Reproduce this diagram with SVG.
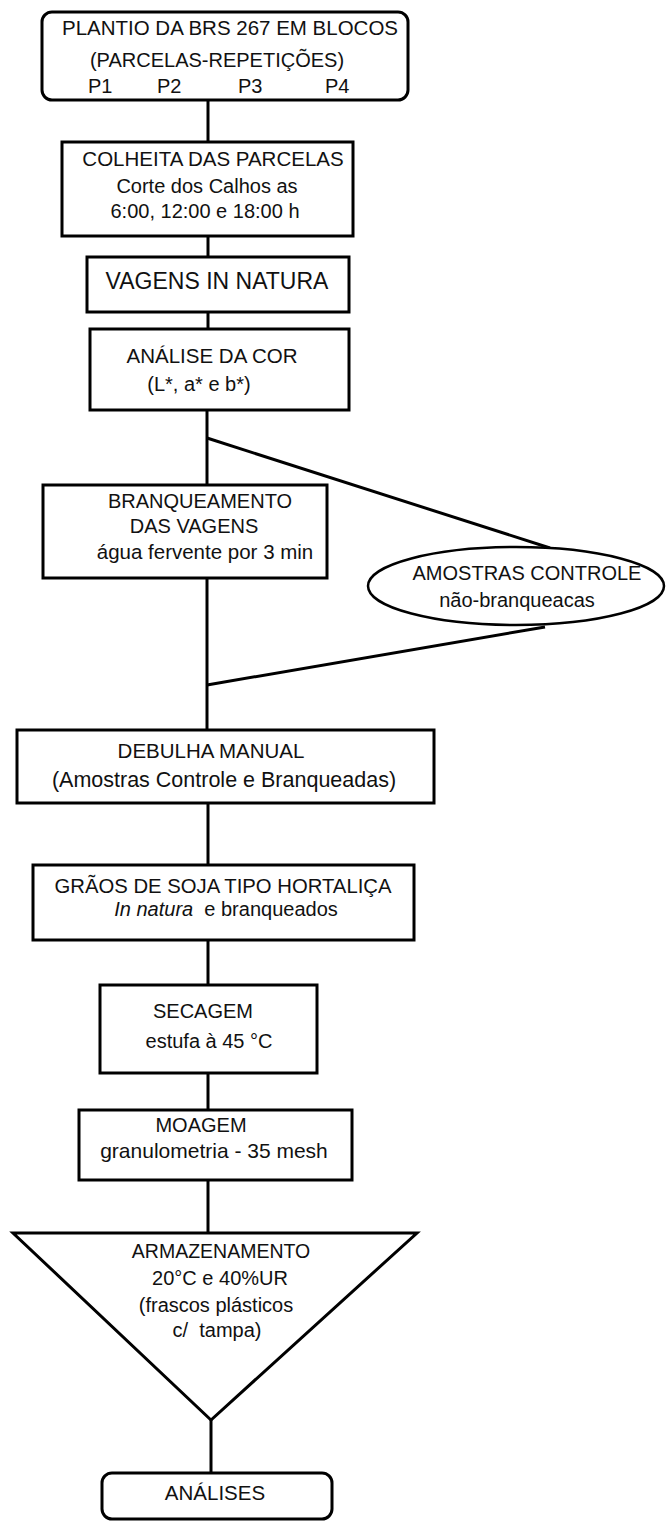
<svg xmlns="http://www.w3.org/2000/svg" width="666" height="1521" viewBox="0 0 666 1521">
<style>
.b{fill:#fff;stroke:#000;stroke-width:3}
.c{fill:none;stroke:#000;stroke-width:3}
text{font-family:"Liberation Sans",Arial,sans-serif;font-size:20px;fill:#111;text-anchor:middle}
.s{text-anchor:start}
.p{white-space:pre}
</style>
<rect width="666" height="1521" fill="#fff"/>
<g id="connectors">
<line class="c" x1="208" y1="100" x2="208" y2="142"/>
<line class="c" x1="208" y1="236" x2="208" y2="257"/>
<line class="c" x1="208" y1="312" x2="208" y2="329"/>
<line class="c" x1="207" y1="410" x2="207" y2="485"/>
<line class="c" x1="207" y1="578" x2="207" y2="730"/>
<polyline class="c" points="207,438 550,548"/>
<polyline class="c" points="545,627 207,685"/>
<line class="c" x1="208" y1="803" x2="208" y2="865"/>
<line class="c" x1="208" y1="940" x2="208" y2="985"/>
<line class="c" x1="208" y1="1073" x2="208" y2="1110"/>
<line class="c" x1="208" y1="1180" x2="208" y2="1233"/>
<line class="c" x1="211" y1="1420" x2="211" y2="1473"/>
</g>
<g id="plantio">
<rect class="b" x="42" y="12" width="366" height="88" rx="10"/>
<text x="230" y="35" style="font-size:20.5px">PLANTIO DA BRS 267 EM BLOCOS</text>
<text x="217" y="67">(PARCELAS-REPETIÇÕES)</text>
<text class="s" x="88" y="93">P1</text>
<text class="s" x="157" y="93">P2</text>
<text class="s" x="238" y="93">P3</text>
<text class="s" x="325" y="93">P4</text>
</g>
<g id="colheita">
<rect class="b" x="62" y="142" width="291" height="94"/>
<text x="213" y="166" style="font-size:20.5px">COLHEITA DAS PARCELAS</text>
<text x="207" y="193">Corte dos Calhos as</text>
<text x="205" y="218">6:00, 12:00 e 18:00 h</text>
</g>
<g id="vagens">
<rect class="b" x="87" y="257" width="262" height="55"/>
<text x="217" y="289" style="font-size:23px">VAGENS IN NATURA</text>
</g>
<g id="analise-cor">
<rect class="b" x="90" y="329" width="259" height="81"/>
<text x="212" y="363" style="font-size:20.5px">ANÁLISE DA COR</text>
<text x="199" y="391">(L*, a* e b*)</text>
</g>
<g id="branqueamento">
<rect class="b" x="43" y="485" width="284" height="93"/>
<text x="200" y="508">BRANQUEAMENTO</text>
<text x="194" y="533">DAS VAGENS</text>
<text x="205" y="559" style="font-size:20.5px">água fervente por 3 min</text>
</g>
<g id="amostras-controle">
<ellipse fill="#fff" stroke="#000" stroke-width="2.5" cx="516" cy="586" rx="148" ry="39"/>
<text x="527" y="580">AMOSTRAS CONTROLE</text>
<text x="517" y="607">não-branqueacas</text>
</g>
<g id="debulha">
<rect class="b" x="17" y="730" width="417" height="73"/>
<text x="211" y="758" style="font-size:20.5px">DEBULHA MANUAL</text>
<text x="224" y="787" style="font-size:21.5px">(Amostras Controle e Branqueadas)</text>
</g>
<g id="graos">
<rect class="b" x="33" y="865" width="381" height="75"/>
<text x="223" y="893" style="font-size:20.3px">GRÃOS DE SOJA TIPO HORTALIÇA</text>
<text class="p" x="226" y="916"><tspan font-style="italic">In natura</tspan>  e branqueados</text>
</g>
<g id="secagem">
<rect class="b" x="100" y="985" width="217" height="88"/>
<text x="203" y="1018">SECAGEM</text>
<text x="209" y="1048">estufa à 45 °C</text>
</g>
<g id="moagem">
<rect class="b" x="79" y="1110" width="273" height="70"/>
<text x="201" y="1132">MOAGEM</text>
<text x="214" y="1158" style="font-size:21px">granulometria - 35 mesh</text>
</g>
<g id="armazenamento">
<polygon class="b" points="13,1233 417,1233 211,1420"/>
<text x="221" y="1258" style="font-size:19.5px">ARMAZENAMENTO</text>
<text x="220" y="1285">20°C e 40%UR</text>
<text x="216" y="1312">(frascos plásticos</text>
<text class="p" x="217" y="1337">c/  tampa)</text>
</g>
<g id="analises">
<rect class="b" x="102" y="1473" width="230" height="46" rx="10"/>
<text x="215" y="1500" style="font-size:20.5px">ANÁLISES</text>
</g>
</svg>
